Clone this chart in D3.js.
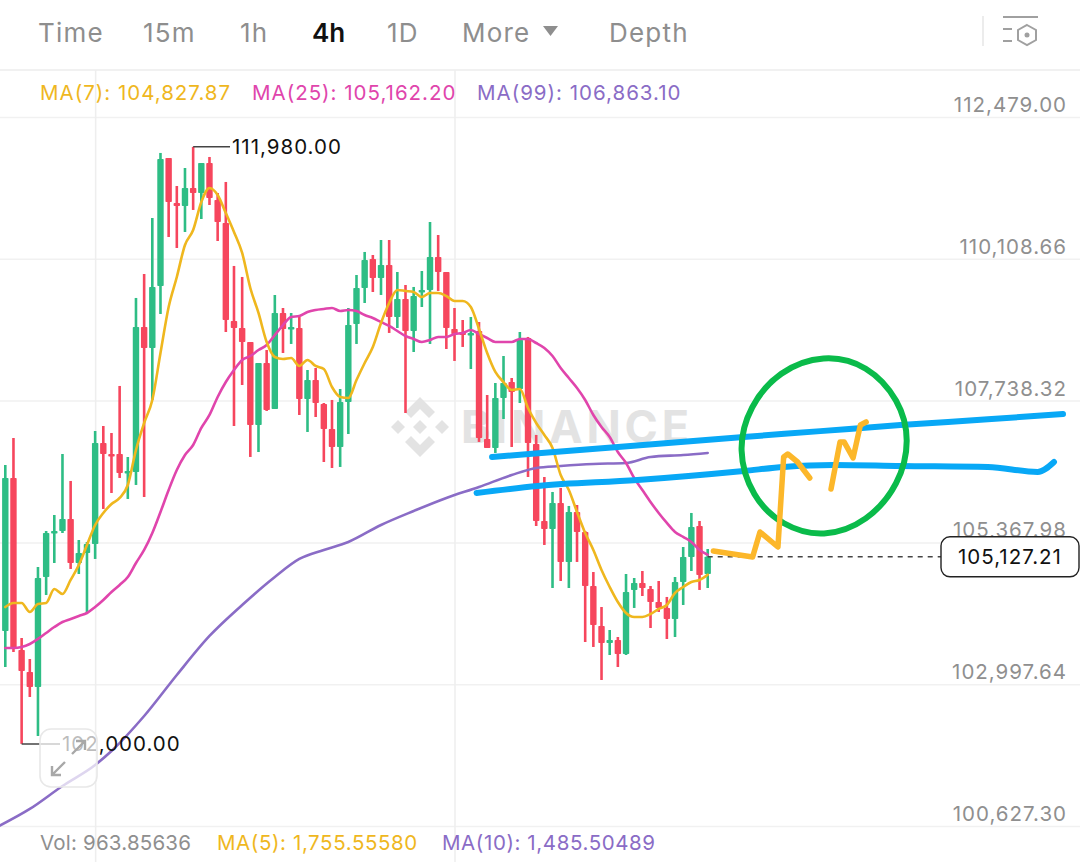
<!DOCTYPE html>
<html>
<head>
<meta charset="utf-8">
<script src="https://cdn.jsdelivr.net/npm/d3@7"></script>
<style>
  html, body { margin: 0; padding: 0; background: #fff; overflow: hidden; }
  text { font-family: Inter, sans-serif; }
</style>
</head>
<body>
<div id="chart"></div>
<script>
// candles, one per 4h bar
var opens = [103887,106445,103570,103202,102951,104790,105525,105559,105759,105024,105191,105341,107030,106846,106846,106528,106545,108969,108618,109654,
  111794,111042,110992,111292,111209,111710,111092,110707,109069,108952,108718,107331,108367,107598,109203,108935,108952,107765,108083,107682,
  107264,106963,107715,109019,109621,110106,109788,110005,109136,109437,108902,109554,109587,110139,109888,108935,108885,108835,108902,107097,
  106946,107782,108049,107932,108785,107013,105726,105592,106027,105041,105876,105542,104639,103971,103687,103737,103503,104573,104690,104589,
  104372,104272,104088,104706,105124,105642,104840];
var highs = [106662,107113,103770,103419,104957,105559,105826,106846,106395,105408,105375,107230,107314,107197,107983,106796,109454,109855,110791,111878,
  111794,111326,111627,111980,111710,111811,111209,111393,109989,109805,108718,108367,108584,109504,109286,109203,109136,108250,108284,107698,
  107749,107932,109286,109838,110223,110172,110423,110423,109888,109671,109638,109905,110724,110507,109888,109286,109086,109136,109052,107832,
  108033,108484,108116,108885,108802,107164,106461,106211,106278,105977,105993,105559,104873,104288,103904,103787,104840,104773,104890,104639,
  104723,104456,104790,105291,105860,105726,105258];
var lows = [103285,103536,102000,102784,102132,104489,105024,105525,104924,104840,104188,105091,105927,106194,106445,106094,106328,106127,107749,109186,
  110473,110289,110557,110925,110774,111008,110406,108885,107314,107999,106796,106879,107565,107598,108534,108685,107498,107214,107464,106712,
  106612,106629,107180,108685,109370,109554,109504,108869,108952,107531,108551,109303,108685,109571,108601,108401,108635,108267,107047,106946,
  106863,107431,106963,107698,106461,105642,105325,104606,104723,104606,105041,103703,103620,103068,103486,103285,103486,104272,104472,103937,
  104205,103753,103787,104322,104890,104573,104606];
var closes = [106445,103603,103219,102951,104773,105525,105559,105759,105024,105191,105341,107030,106846,106829,106528,106562,108969,108618,109638,111777,
  111058,110992,111292,111209,111710,111125,110724,109086,108952,108718,107331,108367,107581,109203,108935,108969,107765,108083,107698,107264,
  106963,107715,109002,109621,110089,109788,110005,109136,109437,108902,109487,109587,110139,109888,108952,108852,108835,108869,107113,106946,
  107782,108033,107882,108752,107030,105726,105592,106027,105041,105876,105542,104639,103987,103687,103737,103503,104539,104690,104606,104372,
  104272,104088,104706,105124,105626,104823,105127.21];

// moving averages
var ma7 = [104288,104355,104355,104205,104339,104355,104589,104506,104740,104990,105325,105659,105860,106010,106111,106328,106913,107364,107749,108534,
  109303,109805,110340,110590,111058,111292,111175,110874,110557,110206,109621,109203,108718,108467,108434,108451,108317,108417,108317,108267,
  107966,107799,107782,108083,108367,108635,109036,109370,109587,109571,109554,109470,109537,109537,109487,109403,109403,109303,108935,108534,
  108217,108049,107916,107932,107615,107364,107164,106946,106495,106244,105876,105525,105241,104907,104623,104372,104188,104121,104121,104171,
  104255,104322,104523,104623,104706,104740,104827.87];
var ma25 = [103603,103603,103620,103670,103754,103854,103954,104038,104088,104138,104188,104288,104405,104539,104656,104790,105024,105241,105525,105876,
  106244,106578,106829,106996,107281,107498,107799,108049,108250,108417,108484,108584,108668,108835,109002,109136,109153,109220,109253,109270,
  109286,109236,109253,109236,109169,109119,109052,108986,108902,108818,108768,108718,108752,108802,108802,108852,108869,108919,108852,108785,
  108718,108718,108718,108768,108768,108701,108618,108484,108284,108116,107949,107749,107498,107297,107130,106879,106696,106445,106244,106044,
  105860,105693,105542,105459,105375,105241,105162.20];
var ma99Bars = [-1,3,7,11,13,17,21,25,29,33,36,39,42,46,50,54,58,62,65,68,72,76,79,83,86];
var ma99 = [100611,100912,101296,101647,101881,102466,103152,103804,104322,104790,105091,105241,105375,105659,105893,106111,106294,106495,106612,106645,106679,106696,106796,106829,106863.10];

// hand drawn marks on top, in bar number and price
var blueTopBars = [59.6,75.0,90.4,99.8,109.6,120.3,129.5];
var blueTop = [106796,106963,107130,107228,107331,107425,107515];
var blueLowBars = [57.7,65.2,77.4,90.4,95.3,101.4,109.6,120.3,126.4,128.4];
var blueLow = [106194,106311,106411,106562,106629,106662,106645,106629,106545,106712];
var scribble1Bars = [86.7,91.5,92.4,94.6,95.3,95.8,97.0,98.5];
var scribble1 = [105224,105124,105542,105291,106796,106846,106712,106445];
var scribble2Bars = [101.1,102.2,102.7,103.8,104.7,105.4];
var scribble2 = [106261,107047,107047,106779,107331,107381];
var ringBars = [100.2,105.6,109.5,110.8,109.5,105.6,100.2,95.1,91.4,89.6,91.1,94.7];
var ring = [108520,108340,107749,107080,106340,105710,105440,105640,106127,106913,107650,108240];

// labels
var priceTicks = [112479.00,110108.66,107738.32,105367.98,102997.64,100627.30];
var timeGrid = [11,55];
var tabs = ["Time","15m","1h","4h","1D","More","Depth"];
var tabX = [38,143,240,312,387,462,609];
var lastPrice = 105127.21, topPrice = 111980, lowPrice = 102000;

var width = 1080, height = 862;
var red = "#f6465d", green = "#2ebd85";
var yellow = "#efb71e", pink = "#e045ac", purple = "#8a6cc6", grey = "#8f8f8f";

var svg = d3.select("#chart").append("svg")
  .attr("width", width)
  .attr("height", height)
  .style("display", "block");

var x = d3.scaleLinear().domain([0, 86]).range([5.3, 707.7]);
var y = d3.scaleLinear().domain([100627.30, 112479]).range([826, 117]);
var fmt = d3.format(",.2f");

// header line
svg.append("line").attr("x1", 0).attr("x2", width).attr("y1", 70).attr("y2", 70)
  .attr("stroke", "#f1f1f1").attr("stroke-width", 2);

// grid + price labels
var yAxis = svg.append("g")
  .attr("transform", "translate(" + width + ",0)")
  .call(d3.axisLeft(y).tickValues(priceTicks).tickSize(width).tickFormat(fmt));
yAxis.select(".domain").remove();
yAxis.selectAll("line").attr("stroke", "#f1f1f1").attr("stroke-width", 1.5);
yAxis.selectAll("text")
  .attr("x", -13).attr("dy", -5.5)
  .attr("text-anchor", "end")
  .attr("fill", grey)
  .style("font-size", "20.5px")
  .style("letter-spacing", "1px")
  .style("font-family", "Inter, sans-serif");

var xAxis = svg.append("g")
  .attr("transform", "translate(0," + height + ")")
  .call(d3.axisBottom(x).tickValues(timeGrid).tickSize(-(height - 70)).tickFormat(""));
xAxis.select(".domain").remove();
xAxis.selectAll("line").attr("stroke", "#eeeeee").attr("stroke-width", 1.5);

// watermark
var wm = svg.append("g").attr("fill", "#e3e3e3");
wm.append("g").attr("transform", "translate(420,427)")
  .selectAll("path")
  .data(["M0,-30 L15,-15 L9,-9 L0,-18 L-9,-9 L-15,-15Z", "M0,30 L15,15 L9,9 L0,18 L-9,9 L-15,15Z",
         "M0,-7 L7,0 L0,7 L-7,0Z", "M-22,-7 L-15,0 L-22,7 L-29,0Z", "M22,-7 L29,0 L22,7 L15,0Z"])
  .enter().append("path").attr("d", function(d){ return d; });
wm.append("text").attr("x", 461).attr("y", 443)
  .style("font-size", "45px").style("font-weight", 700).attr("textLength", 228)
  .text("BINANCE");

// candles
var bars = d3.range(closes.length);
function barColor(i){ return closes[i] >= opens[i] ? green : red; }

svg.append("g").selectAll("line")
  .data(bars).enter().append("line")
    .attr("x1", function(i){ return x(i); })
    .attr("x2", function(i){ return x(i); })
    .attr("y1", function(i){ return y(highs[i]); })
    .attr("y2", function(i){ return y(lows[i]); })
    .attr("stroke", barColor)
    .attr("stroke-width", 2.6);

svg.append("g").selectAll("rect")
  .data(bars).enter().append("rect")
    .attr("x", function(i){ return x(i) - 3.2; })
    .attr("width", 6.4)
    .attr("y", function(i){ return y(Math.max(opens[i], closes[i])); })
    .attr("height", function(i){ return Math.max(2.5, Math.abs(y(opens[i]) - y(closes[i]))); })
    .attr("rx", 0.8)
    .attr("fill", barColor);

// moving average lines
function drawLine(xs, ys, color, w, curve){
  var line = d3.line()
    .x(function(d){ return x(xs[d]); })
    .y(function(d){ return y(ys[d]); })
    .curve(curve);
  return svg.append("path")
    .datum(d3.range(ys.length))
    .attr("d", line)
    .attr("fill", "none")
    .attr("stroke", color)
    .attr("stroke-width", w)
    .attr("stroke-linecap", "round")
    .attr("stroke-linejoin", "round");
}
drawLine(ma99Bars, ma99, purple, 2.6, d3.curveMonotoneX);
drawLine(bars, ma25, pink, 2.6, d3.curveMonotoneX);
drawLine(bars, ma7, yellow, 2.6, d3.curveMonotoneX);

// last price dashes
svg.append("line")
  .attr("x1", x(86)).attr("x2", 941)
  .attr("y1", y(lastPrice)).attr("y2", y(lastPrice))
  .attr("stroke", "#444").attr("stroke-width", 1.5).attr("stroke-dasharray", "5,5");

// hand drawn
drawLine(blueTopBars, blueTop, "#08a8f6", 6, d3.curveMonotoneX);
drawLine(blueLowBars, blueLow, "#08a8f6", 6, d3.curveMonotoneX);
drawLine(ringBars, ring, "#0abb4a", 6, d3.curveBasisClosed);
drawLine(scribble1Bars, scribble1, "#fcb72a", 5.5, d3.curveLinear);
drawLine(scribble2Bars, scribble2, "#fcb72a", 5.5, d3.curveLinear);

// last price tag
var tagY = y(lastPrice);
svg.append("rect").attr("x", 941).attr("y", tagY - 20).attr("width", 138).attr("height", 40)
  .attr("rx", 9).attr("fill", "#fff").attr("stroke", "#222").attr("stroke-width", 1.4);
svg.append("text").attr("x", 1010).attr("y", tagY + 7.5).attr("text-anchor", "middle")
  .attr("fill", "#111").style("font-size", "20.5px").style("letter-spacing", "1px").text(fmt(lastPrice));

// high / low markers
svg.append("path")
  .attr("d", "M" + x(23) + "," + y(topPrice) + "H230")
  .attr("fill", "none").attr("stroke", "#444").attr("stroke-width", 1.5);
svg.append("text").attr("x", 232).attr("y", y(topPrice) + 7)
  .attr("fill", "#111").style("font-size", "20.5px").style("letter-spacing", "1px").text(fmt(topPrice));
svg.append("path")
  .attr("d", "M" + x(2) + "," + y(lowPrice) + "H60")
  .attr("fill", "none").attr("stroke", "#444").attr("stroke-width", 1.5);
svg.append("text").attr("x", 62).attr("y", y(lowPrice) + 7)
  .attr("fill", "#111").style("font-size", "20.5px").style("letter-spacing", "1px").text(fmt(lowPrice));

// expand button
var btn = svg.append("g");
btn.append("rect").attr("x", 40).attr("y", 729).attr("width", 57).attr("height", 58)
  .attr("rx", 11).attr("fill", "#fff").attr("fill-opacity", 0.72)
  .attr("stroke", "#e8e8e8").attr("stroke-width", 1.6);
btn.append("path")
  .attr("d", "M72,754 L85,741 M76,741 H85 V750 M65,762 L52,775 M52,766 V775 H61")
  .attr("fill", "none").attr("stroke", "#a8a8a8").attr("stroke-width", 2.4);

// top tabs
svg.append("g").selectAll("text")
  .data(tabs).enter().append("text")
    .attr("x", function(d, i){ return tabX[i]; })
    .attr("y", 42)
    .attr("fill", function(d){ return d == "4h" ? "#111" : "#8e8e8e"; })
    .style("font-size", "26px")
    .style("letter-spacing", function(d){ return d == "4h" ? "0" : "1.2px"; })
    .style("font-weight", function(d){ return d == "4h" ? 600 : 400; })
    .text(function(d){ return d; });
svg.append("path").attr("d", "M543,26 H558 L550.5,36Z").attr("fill", "#8e8e8e");

// settings icon
var icon = svg.append("g").attr("fill", "none").attr("stroke", "#a0a0a0").attr("stroke-width", 2);
icon.append("line").attr("x1", 983).attr("x2", 983).attr("y1", 16).attr("y2", 46).attr("stroke", "#ececec");
icon.append("path").attr("d", "M1003,17 H1038 M1003,29 H1012 M1003,41 H1012");
icon.append("path").attr("d", "M1027,25 L1036,30 V40 L1027,45 L1018,40 V30Z");
icon.append("circle").attr("cx", 1027).attr("cy", 35).attr("r", 2.5).attr("fill", "#a0a0a0").attr("stroke", "none");

// legends
function label(px, py, color, s, spacing){
  svg.append("text").attr("x", px).attr("y", py).attr("fill", color)
    .style("font-size", "20.5px").style("letter-spacing", spacing + "px").text(s);
}
label(40, 100, yellow, "MA(7): " + fmt(ma7[86]), 1);
label(252, 100, pink, "MA(25): " + fmt(ma25[86]), 1);
label(477, 100, purple, "MA(99): " + fmt(ma99[ma99.length - 1]), 1);
label(40, 850, grey, "Vol: 963.85636", 0.2);
label(217, 850, yellow, "MA(5): 1,755.55580", 0.6);
label(442, 850, purple, "MA(10): 1,485.50489", 0.6);
</script>
</body>
</html>
